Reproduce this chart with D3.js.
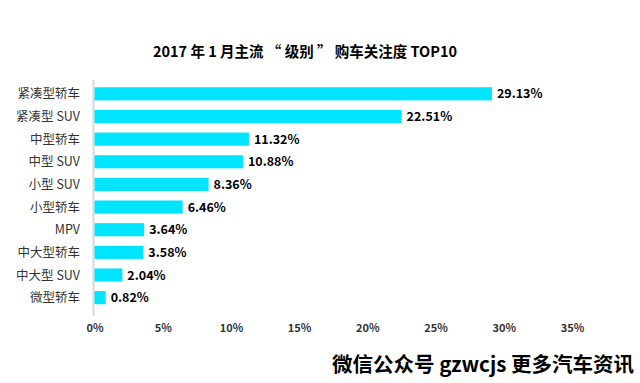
<!DOCTYPE html>
<html><head><meta charset="utf-8">
<script src="https://cdn.jsdelivr.net/npm/d3@7"></script>
<style>
html,body{margin:0;padding:0;background:#fff;}
svg{display:block;}
</style></head>
<body>
<svg id="chart" width="640" height="383"></svg>
<script>
const categories = ["紧凑型轿车","紧凑型 SUV","中型轿车","中型 SUV","小型 SUV","小型轿车","MPV","中大型轿车","中大型 SUV","微型轿车"];
const values = [29.13, 22.51, 11.32, 10.88, 8.36, 6.46, 3.64, 3.58, 2.04, 0.82];
const ticks = [0,5,10,15,20,25,30,35];
const title = "2017 年 1 月主流 “ 级别 ” 购车关注度 TOP10";
const watermark = "微信公众号 gzwcjs 更多汽车资讯";

const font = "'Noto Sans CJK SC','Microsoft YaHei',sans-serif";
const svg = d3.select("#chart");
svg.append("rect").attr("width",640).attr("height",383).attr("fill","#fff");

const x = d3.scaleLinear().domain([0,35]).range([94.5,572]);
const y = d3.scaleBand().domain(categories).range([82.5,309]).paddingInner(0.42).paddingOuter(0.21);

svg.append("text").attr("x",305).attr("y",57).attr("text-anchor","middle")
  .attr("font-family",font).attr("font-size",14.5).attr("font-weight","bold").attr("fill","#000")
  .text(title);

// axis line
svg.append("line").attr("x1",93.5).attr("x2",93.5).attr("y1",80).attr("y2",316)
  .attr("stroke","#d9d9d9").attr("stroke-width",2);

svg.selectAll("rect.bar").data(values).enter().append("rect").attr("class","bar")
  .attr("x",x(0)).attr("y",(d,i)=>y(categories[i]))
  .attr("width",d=>x(d)-x(0)).attr("height",y.bandwidth())
  .attr("fill","#00e5ff");

svg.selectAll("text.val").data(values).enter().append("text").attr("class","val")
  .attr("x",d=>x(d)+5).attr("y",(d,i)=>y(categories[i])+y.bandwidth()/2)
  .attr("dy","0.36em")
  .attr("font-family",font).attr("font-size",12.5).attr("font-weight","bold").attr("fill","#000")
  .text(d=>d.toFixed(2)+"%");

svg.selectAll("text.cat").data(categories).enter().append("text").attr("class","cat")
  .attr("x",80).attr("y",d=>y(d)+y.bandwidth()/2).attr("dy","0.36em")
  .attr("text-anchor","end")
  .attr("font-family",font).attr("font-size",12.5).attr("fill","#333")
  .text(d=>d);

const xAxis = d3.axisBottom(x).tickValues(ticks).tickFormat(d=>d+"%").tickSize(0).tickPadding(0);
const gx = svg.append("g").attr("transform","translate(0,324)").call(xAxis);
gx.select(".domain").remove();
gx.selectAll("text").attr("font-family",font).attr("font-size",11).attr("font-weight","bold").attr("fill","#333");

svg.append("text").attr("x",634).attr("y",372).attr("text-anchor","end")
  .attr("font-family",font).attr("font-size",20.5).attr("font-weight","bold").attr("fill","#000")
  .text(watermark);
</script>
</body></html>
